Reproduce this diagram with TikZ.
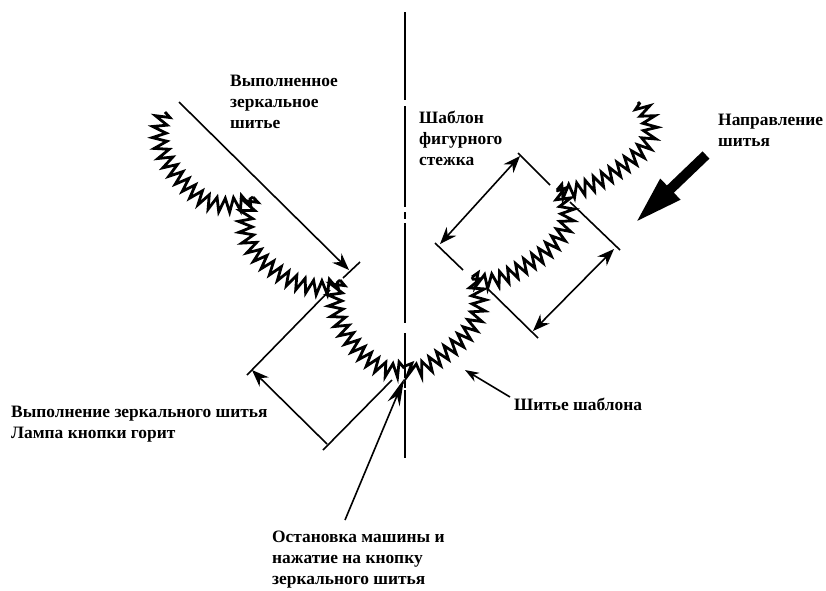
\documentclass[tikz,border=0pt]{standalone}
\usepackage{fontspec}
\setmainfont{Liberation Serif}
\usetikzlibrary{arrows.meta, decorations.pathmorphing}

\begin{document}
\begin{tikzpicture}[
      x=1pt, y=-1pt,
      label/.style={inner sep=0pt, anchor=west, align=left, font=\fontsize{17.4}{21}\selectfont\bfseries},
      stitch/.style={line width=2.8pt, line join=miter, miter limit=8, decorate, decoration={zigzag, segment length=9.6pt, amplitude=7pt}},
      axis/.style={line width=2.6pt, dash pattern=on 88pt off 6pt on 101pt off 5pt on 7pt off 4pt on 100pt off 10pt on 45pt off 3pt on 7pt off 2pt on 68pt},
      tick/.style={line width=1.6pt},
      arrow/.style={-{Stealth[length=17pt, width=13pt]}, line width=1.6pt},
      twoway/.style={{Stealth[length=17pt, width=13pt]}-{Stealth[length=17pt, width=13pt]}, line width=1.6pt},
      bigarrow/.style={-{Triangle[length=49pt, width=26pt]}, line width=10pt}
    ]
    \useasboundingbox (0,0) rectangle (826,590);

    % centre line
    \coordinate (axistop) at (405,12);
    \coordinate (axisbot) at (405,460);
    \draw[axis] (axistop) -- (axisbot);

    % mirrored stitching
    \draw[stitch] (165,112) .. controls (152,135) and (160,165) .. (199,197) .. controls (215,208) and (238,208) .. (253,197);
    \draw[stitch] (253,197) .. controls (238,225) and (245,250) .. (273,269) .. controls (290,283) and (325,297) .. (340,280);
    \draw[stitch] (340,280) .. controls (325,305) and (345,345) .. (378,366) .. controls (388,372) and (398,372) .. (405,366);

    % pattern stitching
    \draw[stitch] (405,366) .. controls (415,378) and (430,365) .. (447,352) .. controls (470,335) and (490,310) .. (472,277);
    \draw[stitch] (472,277) .. controls (490,290) and (515,272) .. (538,258) .. controls (562,240) and (580,215) .. (557,190);
    \draw[stitch] (557,190) .. controls (575,197) and (610,178) .. (635,157) .. controls (655,140) and (655,120) .. (638,102);

    % texts
    \node[label] (donelabel) at (230,102) {Выполненное\\зеркальное\\шитье};
    \node[label] (patternlabel) at (419,138) {Шаблон\\фигурного\\стежка};
    \node[label] (dirlabel) at (718,130) {Направление\\шитья};
    \node[label] (mirrorlabel) at (11,424) {Выполнение зеркального шитья\\Лампа кнопки горит};
    \node[label] (sewlabel) at (514,404) {Шитье шаблона};
    \node[label] (stoplabel) at (272,560) {Остановка машины и\\нажатие на кнопку\\зеркального шитья};

    % left side
    \coordinate (doneend) at (179,102);
    \coordinate (donetip) at (349,270);
    \coordinate (ticka) at (360,262);
    \coordinate (tickb) at (343,278);
    \coordinate (tickc) at (330,290);
    \coordinate (tickd) at (247,375);
    \coordinate (ticke) at (323,450);
    \coordinate (tickf) at (392,380);
    \coordinate (mirrortip) at (252,370);
    \coordinate (mirrorend) at (327,444);
    \coordinate (stopend) at (345,520);
    \coordinate (stoptip) at (404,379);
    \draw[arrow] (doneend) -- (donetip);
    \draw[tick] (ticka) -- (tickb);
    \draw[tick] (tickc) -- (tickd);
    \draw[tick] (ticke) -- (tickf);
    \draw[arrow] (mirrorend) -- (mirrortip);
    \draw[arrow, -{Stealth[length=27pt, width=13pt]}] (stopend) -- (stoptip);

    % right side
    \coordinate (topa) at (518,153);
    \coordinate (topb) at (550,185);
    \coordinate (topc) at (435,243);
    \coordinate (topd) at (463,270);
    \coordinate (lowa) at (570,202);
    \coordinate (lowb) at (620,250);
    \coordinate (lowc) at (487,288);
    \coordinate (lowd) at (538,338);
    \coordinate (uptip) at (520,156);
    \coordinate (dntip) at (440,244);
    \coordinate (uptipb) at (614,249);
    \coordinate (dntipb) at (533,331);
    \draw[tick] (topa) -- (topb);
    \draw[tick] (topc) -- (topd);
    \draw[tick] (lowa) -- (lowb);
    \draw[tick] (lowc) -- (lowd);
    \draw[twoway] (uptip) -- (dntip);
    \draw[twoway] (uptipb) -- (dntipb);

    \coordinate (sewend) at (510,397);
    \coordinate (sewtip) at (465,370);
    \draw[arrow, -{Stealth[length=14pt, width=10pt]}] (sewend) -- (sewtip);

    \coordinate (dirend) at (706,155);
    \coordinate (dirtip) at (635,223);
    \draw[bigarrow] (dirend) -- (dirtip);
  \end{tikzpicture}
\end{document}
